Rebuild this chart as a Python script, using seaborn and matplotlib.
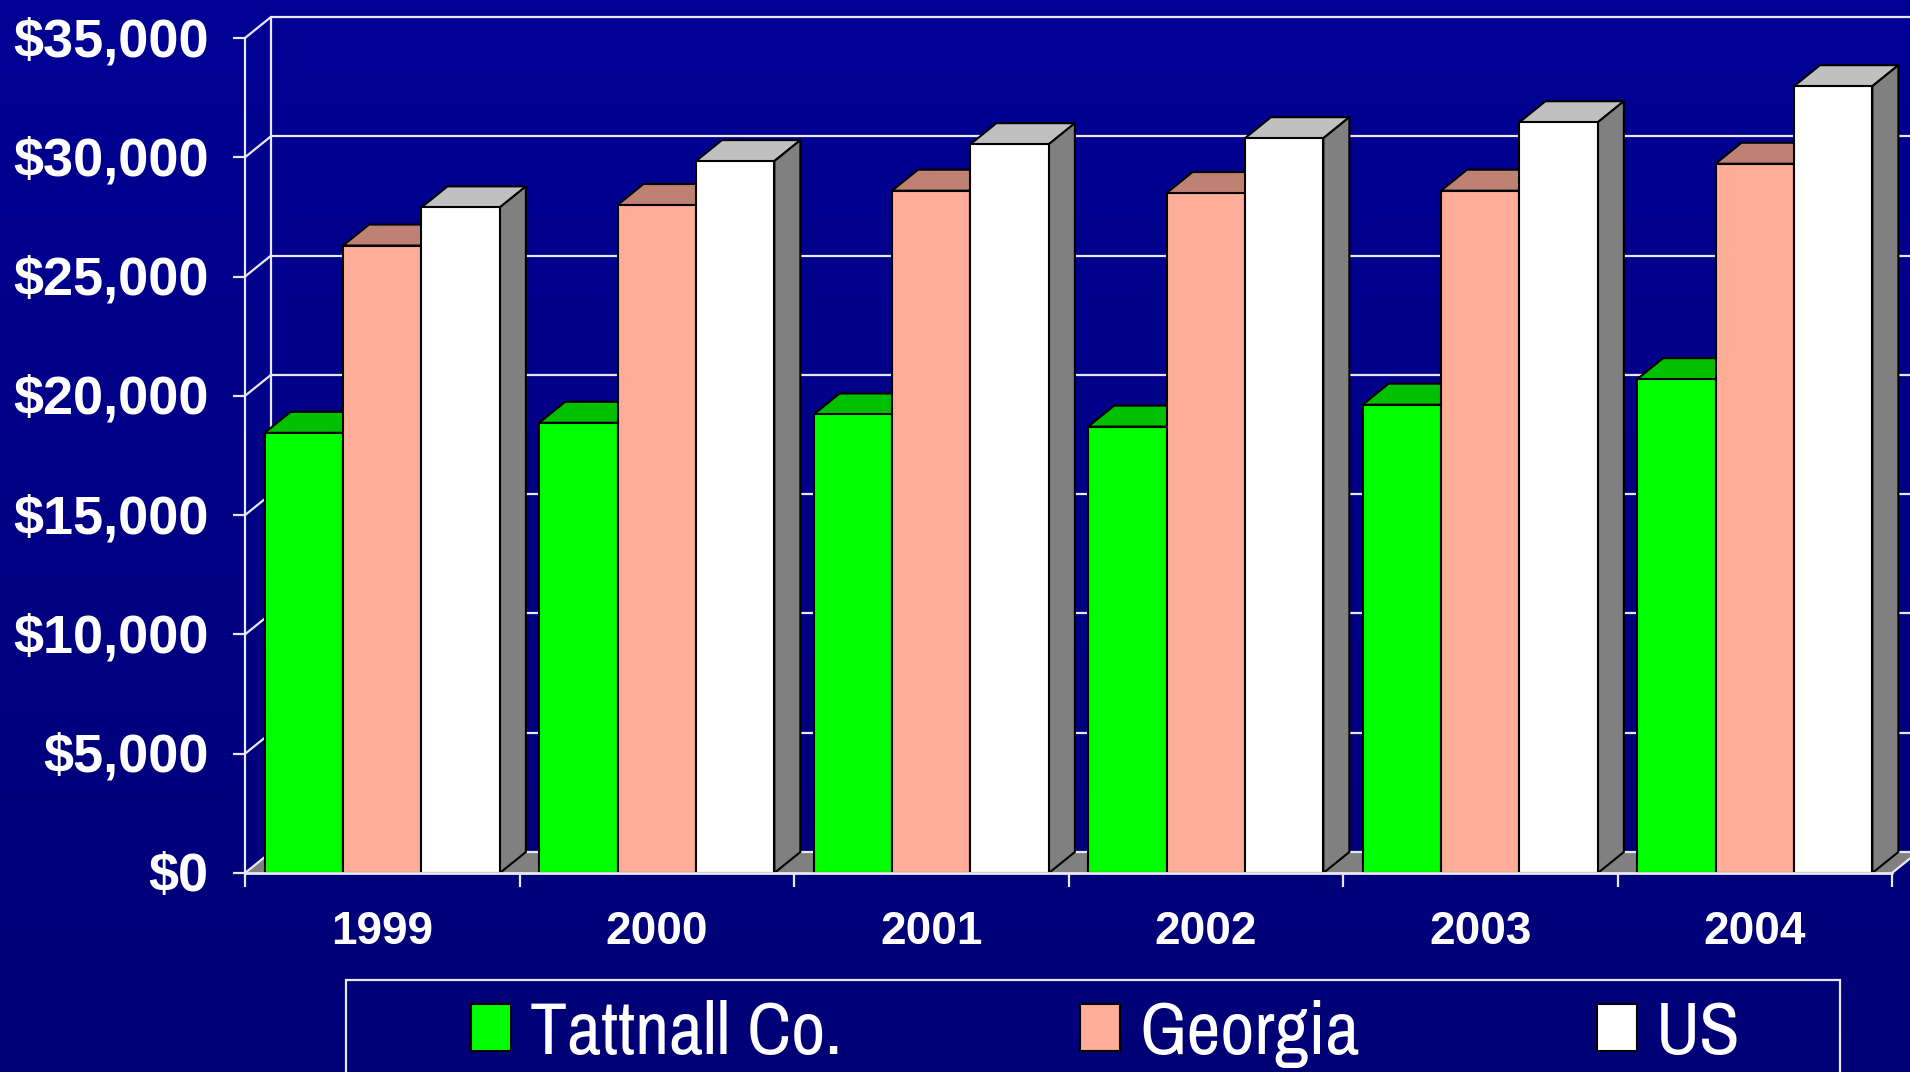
import numpy as np
import pandas as pd
import matplotlib
matplotlib.use("Agg")
import matplotlib.pyplot as plt
from matplotlib.patches import Polygon, Rectangle
from matplotlib.transforms import ScaledTranslation
import seaborn as sns

years = ["1999", "2000", "2001", "2002", "2003", "2004"]
tattnall = [18450, 18870, 19220, 18710, 19630, 20700]
georgia = [26300, 28000, 28600, 28500, 28600, 29730]
us = [27900, 29840, 30550, 30800, 31470, 32980]
areas = ["Tattnall Co.", "Georgia", "US"]
y_ticks = [0, 5000, 10000, 15000, 20000, 25000, 30000, 35000]

face_colors = ["#00FF00", "#FFAD99", "#FFFFFF"]
top_colors = ["#00C000", "#BF8272", "#C0C0C0"]
side_colors = ["#00A000", "#A06050", "#808080"]
line_col = "#E8E8F4"
narrow_fonts = ["Liberation Sans Narrow", "Archivo Narrow", "Roboto Condensed",
                "Sofia Sans Semi Condensed", "Liberation Sans"]

W, H = 1910, 1072
# pixel box of the front plane
X0, X1, Y0, Y1 = 245, 1892, 873, 38
DX_PX, DY_PX = 26, 21

df = pd.DataFrame({
    "year": years * 3,
    "area": sum([[a] * len(years) for a in areas], []),
    "income": tattnall + georgia + us,
})

sns.set_style("white")
plt.rcParams["font.family"] = ["Liberation Sans", "DejaVu Sans"]
fig = plt.figure(figsize=(W / 100, H / 100), dpi=100)

# slide background, slightly darker towards the bottom
bg = fig.add_axes([0, 0, 1, 1], zorder=0)
bg.imshow(np.linspace(0, 1, 256).reshape(-1, 1), aspect="auto",
          cmap=matplotlib.colors.LinearSegmentedColormap.from_list("bg", ["#000094", "#000076"]))
bg.axis("off")

ax = fig.add_axes([X0 / W, 1 - Y0 / H, (X1 - X0) / W, (Y0 - Y1) / H], zorder=1)
ax.patch.set_alpha(0)
sns.barplot(data=df, x="year", y="income", hue="area", order=years, hue_order=areas,
            palette=face_colors, saturation=1, width=0.857, gap=0,
            edgecolor="black", linewidth=1.5, ax=ax)
handles, labels = ax.get_legend_handles_labels()
ax.get_legend().remove()

ax.set_xlim(-0.5, 5.5)
ax.set_ylim(0, 35000)
ax.set_xlabel("")
ax.set_ylabel("")
for s in ax.spines.values():
    s.set_visible(False)

dx = DX_PX / (X1 - X0) * 6
dy = DY_PX / (Y0 - Y1) * 35000

# back wall and side wall
for v in y_ticks:
    ax.plot([-0.5 + dx, 6.0], [v + dy, v + dy], color=line_col, lw=1.6, zorder=1.5, clip_on=False)
    ax.plot([-0.5, -0.5 + dx], [v, v + dy], color=line_col, lw=1.6, zorder=1.5, clip_on=False)
ax.plot([-0.5 + dx] * 2, [dy, 35000 + dy], color=line_col, lw=1.6, zorder=1.5, clip_on=False)
ax.add_patch(Polygon([(-0.5, 0), (5.5, 0), (5.5 + dx, dy), (-0.5 + dx, dy)], closed=True,
                     facecolor="#808080", edgecolor="none", zorder=1.2, clip_on=False))
ax.plot([5.5, 5.5 + dx], [0, dy], color=line_col, lw=1.6, zorder=1.5, clip_on=False)

# depth faces of the bars
for i, cont in enumerate(ax.containers):
    for p in cont.patches:
        x0, x1, h = p.get_x(), p.get_x() + p.get_width(), p.get_height()
        p.set_zorder(3 + 2 * i)
        ax.add_patch(Polygon([(x0, h), (x0 + dx, h + dy), (x1 + dx, h + dy), (x1, h)], closed=True,
                             facecolor=top_colors[i], edgecolor="black", lw=1.5,
                             zorder=2 + 2 * i, clip_on=False))
        ax.add_patch(Polygon([(x1, 0), (x1 + dx, dy), (x1 + dx, h + dy), (x1, h)], closed=True,
                             facecolor=side_colors[i], edgecolor="black", lw=1.5,
                             zorder=2 + 2 * i, clip_on=False))

# axis lines in front of everything
ax.plot([-0.5, -0.5], [0, 35000], color=line_col, lw=1.6, zorder=9, clip_on=False)
ax.plot([-0.5, 5.5], [0, 0], color=line_col, lw=2, zorder=9, clip_on=False)

ax.set_yticks(y_ticks)
ax.set_yticklabels([f"${v:,}" for v in y_ticks], fontsize=39, fontweight="bold", color="white")
ax.tick_params(axis="y", length=8.5, width=1.6, color=line_col, pad=17.5, left=True)
lift = ScaledTranslation(0, 1 / 72, fig.dpi_scale_trans)
for t in ax.get_yticklabels():
    t.set_transform(t.get_transform() + lift)
ax.set_xticks(range(len(years)))
ax.set_xticklabels(years, fontsize=33, fontweight="bold", color="white")
ax.tick_params(axis="x", which="major", length=0, pad=27, bottom=False)
ax.set_xticks(np.arange(-0.5, 6), minor=True)
ax.tick_params(axis="x", which="minor", length=10, width=1.6, color=line_col, bottom=True)

# legend box runs off the bottom of the slide
fig.add_artist(Rectangle((346 / W, -0.05), (1840 - 346) / W, 1 - 980 / H + 0.05,
                         transform=fig.transFigure, facecolor="none",
                         edgecolor=line_col, lw=1.6, zorder=5))
leg = fig.legend(handles, labels, ncol=3, loc="lower left", bbox_to_anchor=(471 / W, 1 - 1068 / H),
                 frameon=False, borderpad=0, borderaxespad=0, handlelength=0.535, handleheight=0.6,
                 handletextpad=0.26, columnspacing=3.2,
                 prop={"family": narrow_fonts, "size": 53.5})
for t in leg.get_texts():
    t.set_color("white")
for h in leg.legend_handles:
    h.set_edgecolor("black")
    h.set_linewidth(1.5)

fig.savefig("out.png", dpi=100)
